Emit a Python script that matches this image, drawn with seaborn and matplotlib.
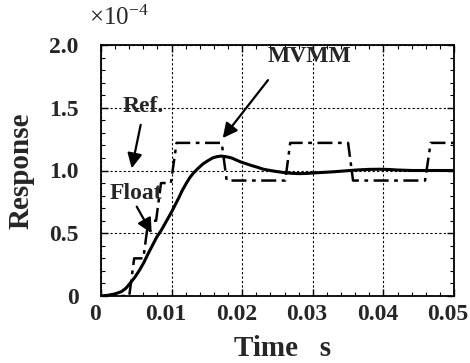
import numpy as np
import pandas as pd
import matplotlib
matplotlib.use("Agg")
import matplotlib.pyplot as plt
import matplotlib.transforms as mtrans
import seaborn as sns

# ---- data (response in units of 1e-4) ----
ref_t = [0.0, 0.0040, 0.0047, 0.0060, 0.0067, 0.0078, 0.0085, 0.0099, 0.0107,
         0.0171, 0.0178, 0.0261, 0.0268, 0.0350, 0.0357, 0.0459, 0.0467, 0.0500]
ref_v = [0.0, 0.0, 0.30, 0.30, 0.60, 0.60, 0.90, 0.90, 1.22,
         1.22, 0.92, 0.92, 1.22, 1.22, 0.92, 0.92, 1.22, 1.22]

mvmm_t = [0.0, 0.0010, 0.0020, 0.0029, 0.0035, 0.0041, 0.0048, 0.0055, 0.0061,
          0.0067, 0.0073, 0.0079, 0.0085, 0.0090, 0.0095, 0.0100, 0.0105,
          0.0110, 0.0115, 0.0121, 0.0126, 0.0131, 0.0138, 0.0145, 0.0152,
          0.0158, 0.0164, 0.0170, 0.0177, 0.0185, 0.0197, 0.0205, 0.0213,
          0.0222, 0.0230, 0.0245, 0.0261, 0.0272, 0.0282, 0.0292, 0.0300,
          0.0315, 0.0330, 0.0348, 0.0365, 0.0380, 0.0395, 0.0408, 0.0420,
          0.0440, 0.0500]
mvmm_v = [0.0, 0.006, 0.017, 0.035, 0.06, 0.10, 0.15, 0.21, 0.27,
          0.34, 0.405, 0.47, 0.52, 0.57, 0.62, 0.67, 0.725,
          0.78, 0.84, 0.90, 0.945, 0.98, 1.02, 1.055, 1.08,
          1.10, 1.11, 1.115, 1.11, 1.10, 1.07, 1.055, 1.04,
          1.025, 1.01, 0.995, 0.982, 0.977, 0.975, 0.977, 0.98,
          0.985, 0.99, 0.998, 1.005, 1.009, 1.01, 1.008, 1.004,
          1.0, 1.0]

xticks = [0, 0.01, 0.02, 0.03, 0.04, 0.05]
xtick_labels = ["0", "0.01", "0.02", "0.03", "0.04", "0.05"]
yticks = [0, 0.5, 1.0, 1.5, 2.0]
ytick_labels = ["0", "0.5", "1.0", "1.5", "2.0"]

sns.set_style("ticks")
plt.rcParams["font.family"] = ["Liberation Serif", "DejaVu Serif"]
plt.rcParams["mathtext.fontset"] = "custom"
plt.rcParams["mathtext.rm"] = "Liberation Serif"
plt.rcParams["mathtext.it"] = "Liberation Serif:italic"
plt.rcParams["mathtext.bf"] = "Liberation Serif:bold"

fig = plt.figure(figsize=(4.7, 3.63), dpi=100)
ax = fig.add_axes([101/470, 1-296/363, 353/470, 251/363])

ref_df = pd.DataFrame({"t": ref_t, "v": ref_v})
mvmm_df = pd.DataFrame({"t": mvmm_t, "v": mvmm_v})

sns.lineplot(data=ref_df, x="t", y="v", ax=ax, color="black", lw=1.8,
             linestyle=(0, (6, 2.2, 1.5, 2.2)), sort=False, zorder=3)
sns.lineplot(data=mvmm_df, x="t", y="v", ax=ax, color="black", lw=2.2,
             sort=False, zorder=4)

ax.set_xlim(0, 0.05)
ax.set_ylim(0, 2.0)
ax.set_xticks(xticks)
ax.set_xticklabels(xtick_labels)
ax.set_yticks(yticks)
ax.set_yticklabels(ytick_labels)
ax.set_xticks(np.arange(0, 0.0501, 0.002), minor=True)
ax.set_yticks(np.arange(0, 2.001, 0.1), minor=True)
ax.tick_params(which="both", direction="in", top=True, right=True, color="black")
ax.tick_params(which="major", length=5, width=1.0)
ax.tick_params(which="minor", length=3, width=0.8)
ax.tick_params(axis="x", pad=6, labelsize=17)
ax.tick_params(axis="y", pad=16, labelsize=17)
shift = mtrans.ScaledTranslation(-6/100, 0, fig.dpi_scale_trans)
for lab in ax.get_xticklabels():
    lab.set_fontweight("bold")
    lab.set_transform(lab.get_transform() + shift)
for lab in ax.get_yticklabels():
    lab.set_fontweight("bold")

ax.grid(True, which="major", color="black", linestyle=(0, (2, 2)), lw=0.8)
for s in ax.spines.values():
    s.set_color("black")
    s.set_linewidth(1.3)

ax.set_xlabel("Time   s", fontsize=21, fontweight="bold")
ax.set_ylabel("Response", fontsize=21, fontweight="bold")
ax.xaxis.set_label_coords((283-101)/353, -(335-296)/251)
ax.yaxis.set_label_coords(-(101-35)/353, 0.5)

fig.text(89/470, 1-25/363, r"$\times$10$^{-4}$", fontsize=18, va="baseline", ha="left")

arrow = dict(arrowstyle="-|>", color="black", lw=1.6, mutation_scale=22,
             shrinkA=0, shrinkB=0)
ax.text(0.0296, 1.906, "MVMM", fontsize=17, fontweight="bold",
        ha="center", va="center")
ax.annotate("", xy=(0.01724, 1.258), xytext=(0.02365, 1.72), arrowprops=arrow)
ax.text(0.00595, 1.507, "Ref.", fontsize=17, fontweight="bold",
        ha="center", va="center")
ax.annotate("", xy=(0.00435, 1.018), xytext=(0.00562, 1.364), arrowprops=arrow)
ax.text(0.00496, 0.82, "Float", fontsize=17, fontweight="bold",
        ha="center", va="center", zorder=5)
ax.annotate("", xy=(0.00718, 0.50), xytext=(0.00506, 0.712), arrowprops=arrow)

fig.savefig("out.png", dpi=100)
